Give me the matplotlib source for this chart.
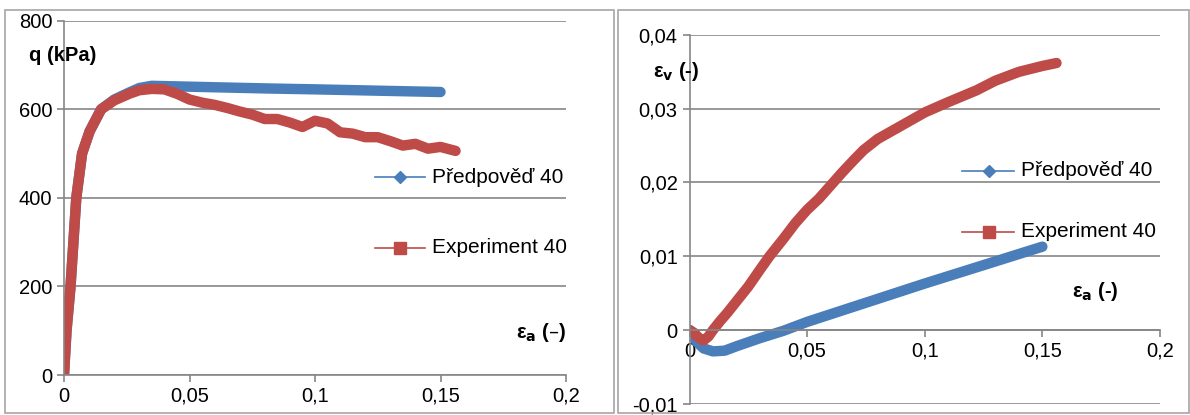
import numpy as np
import matplotlib.pyplot as plt
from matplotlib.patches import Rectangle

# --- q - eps_a (left) ---
qa_pred = [0, 0.001, 0.0026, 0.0049, 0.0072, 0.0102, 0.0148, 0.02, 0.026, 0.03, 0.035,
           0.05, 0.081, 0.1, 0.125, 0.15]
q_pred = [0, 100, 200, 400, 500, 550, 600, 622, 638, 648, 653,
          651, 647, 645, 642, 639]

qa_exp = [0, 0.001, 0.0026, 0.0049, 0.0072, 0.0102, 0.0148, 0.02, 0.026, 0.03, 0.035, 0.04,
          0.045, 0.05, 0.055, 0.06, 0.065, 0.07, 0.075, 0.08, 0.085, 0.09, 0.095, 0.1,
          0.105, 0.11, 0.115, 0.12, 0.125, 0.13, 0.135, 0.14, 0.145, 0.15, 0.156]
q_exp = [0, 100, 200, 400, 500, 550, 600, 620, 635, 643, 646, 645,
         635, 622, 615, 610, 603, 595, 588, 578, 578, 570, 560, 574,
         568, 548, 545, 537, 537, 528, 518, 522, 511, 515, 506]

# --- eps_v - eps_a (right) ---
va_pred = [0, 0.003, 0.006, 0.01, 0.015, 0.02, 0.03, 0.04, 0.05, 0.075, 0.1, 0.125, 0.15]
v_pred = [0, -0.0016, -0.0025, -0.0029, -0.0028, -0.0022, -0.0011, -0.0001, 0.0011, 0.0037,
          0.0063, 0.0088, 0.0113]

va_exp = [0, 0.002, 0.004, 0.006, 0.008, 0.01, 0.013, 0.016, 0.02, 0.025, 0.03, 0.034,
          0.04, 0.045, 0.05, 0.055, 0.06, 0.065, 0.07, 0.074, 0.08, 0.09, 0.1, 0.11,
          0.122, 0.13, 0.14, 0.15, 0.156]
v_exp = [0, -0.0004, -0.0011, -0.0014, -0.0009, 0.0, 0.0012, 0.0023, 0.0039, 0.0059, 0.0082, 0.0100,
         0.0124, 0.0145, 0.0163, 0.0178, 0.0196, 0.0214, 0.0231, 0.0244, 0.0259, 0.0277, 0.0295, 0.0309,
         0.0325, 0.0338, 0.0350, 0.0358, 0.0362]

blue = '#4a7ebb'
red = '#be4b48'
grid_c = '#868686'

plt.rcParams['font.family'] = ['Liberation Sans', 'DejaVu Sans']

fig = plt.figure(figsize=(11.9, 4.15), dpi=100)

# panel frames
fig.patches.append(Rectangle((5 / 1190, 2 / 415), 609 / 1190, 403 / 415, transform=fig.transFigure,
                             fill=False, edgecolor='#a6a6a6', lw=1.2))
fig.patches.append(Rectangle((618 / 1190, 2 / 415), 571 / 1190, 403 / 415, transform=fig.transFigure,
                             fill=False, edgecolor='#a6a6a6', lw=1.2))


def style(ax):
    ax.grid(axis='y', color=grid_c, lw=1.2)
    ax.set_axisbelow(True)
    for s in ['top', 'right']:
        ax.spines[s].set_visible(False)
    ax.spines['left'].set_color(grid_c)
    ax.spines['bottom'].set_color(grid_c)
    ax.spines['left'].set_linewidth(1.2)
    ax.spines['bottom'].set_linewidth(1.2)
    ax.tick_params(colors=grid_c, labelcolor='black', labelsize=14.5, length=5, width=1.2)


ax1 = fig.add_axes([64 / 1190, 1 - 375 / 415, 502 / 1190, 354.3 / 415])
style(ax1)
ax1.plot(qa_pred, q_pred, color=blue, lw=7.5, solid_capstyle='round', solid_joinstyle='round')
ax1.plot(qa_exp, q_exp, color=red, lw=7.5, solid_capstyle='round', solid_joinstyle='round')
ax1.set_xlim(0, 0.2)
ax1.set_ylim(0, 800)
ax1.set_xticks([0, 0.05, 0.1, 0.15, 0.2])
ax1.set_xticklabels(['0', '0,05', '0,1', '0,15', '0,2'])
ax1.set_yticks([0, 200, 400, 600, 800])
ax1.set_yticklabels(['0', '200', '400', '600', '800'])
ax1.text(-0.0138, 722, 'q (kPa)', fontsize=14.5, fontweight='bold', ha='left', va='center')
ax1.text(0.2, 97, 'ε$_\\mathbf{a}$ (–)', fontsize=14.5, fontweight='bold', ha='right', va='center')

ax2 = fig.add_axes([689.5 / 1190, 1 - 403.75 / 415, 470.5 / 1190, 368.75 / 415])
style(ax2)
ax2.spines['bottom'].set_position(('data', 0))
ax2.plot(va_pred, v_pred, color=blue, lw=7.5, solid_capstyle='round', solid_joinstyle='round')
ax2.plot(va_exp, v_exp, color=red, lw=7.5, solid_capstyle='round', solid_joinstyle='round')
ax2.set_xlim(0, 0.2)
ax2.set_ylim(-0.01, 0.04)
ax2.set_xticks([0, 0.05, 0.1, 0.15, 0.2])
ax2.set_xticklabels(['0', '0,05', '0,1', '0,15', '0,2'])
ax2.set_yticks([-0.01, 0, 0.01, 0.02, 0.03, 0.04])
ax2.set_yticklabels(['-0,01', '0', '0,01', '0,02', '0,03', '0,04'])
ax2.text(-0.0155, 0.0350, 'ε$_\\mathbf{v}$ (-)', fontsize=14.5, fontweight='bold', ha='left', va='center')
ax2.text(0.1625, 0.0052, 'ε$_\\mathbf{a}$ (-)', fontsize=14.5, fontweight='bold', ha='left', va='center')

# legend entries: (line start, line end, marker x, text x) and the two y levels
legends = [
    (ax1, (0.1239, 0.1438, 0.1339, 0.1466), (447, 287)),
    (ax2, (0.1158, 0.1380, 0.1273, 0.1409), (0.0216, 0.0133)),
]
for ax, (xa, xb, xm, xt), (yp, ye) in legends:
    ax.plot([xa, xb], [yp, yp], color=blue, lw=1.2)
    ax.plot([xm], [yp], marker='D', color=blue, ms=6)
    ax.text(xt, yp, 'Předpověď 40', fontsize=15, va='center', ha='left')
    ax.plot([xa, xb], [ye, ye], color=red, lw=1.2)
    ax.plot([xm], [ye], marker='s', color=red, ms=8)
    ax.text(xt, ye, 'Experiment 40', fontsize=15, va='center', ha='left')

fig.savefig('out.png', dpi=100)
